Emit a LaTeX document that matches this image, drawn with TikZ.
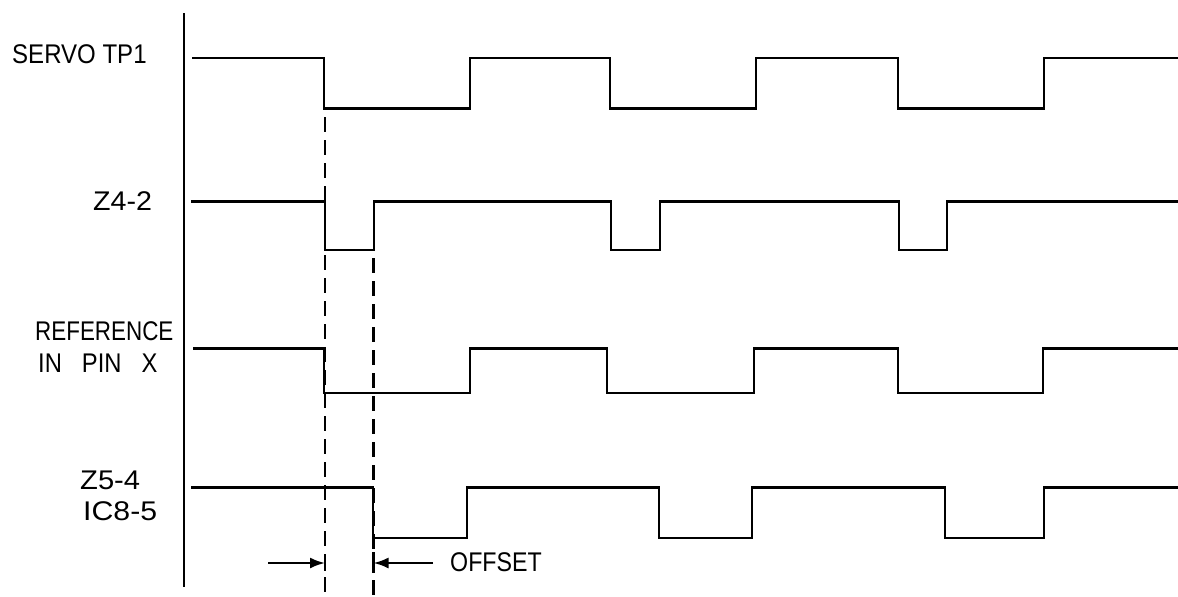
\documentclass[tikz,border=0pt]{standalone}
\usepackage{fontspec}
\setmainfont{Liberation Sans}
\usetikzlibrary{arrows.meta}
\begin{document}
\begin{tikzpicture}[x=1pt,y=-1pt,
  wave/.style={line width=2.4pt, line join=miter},
  guide/.style={line width=2.2pt, dash pattern=on 15pt off 8pt},
  lbl/.style={font=\fontsize{27}{31}\selectfont, inner sep=0pt, anchor=base west},
  dimarrow/.style={line width=2.2pt, -{Latex[length=15pt,width=11pt]}},
  bar/.style={line width=2.2pt}]
\useasboundingbox (0,0) rectangle (1178,597);
% axis
\draw[line width=2.6pt] (184,13) -- (184,587);
% labels
\node[lbl] (l1) at (12,63.5) {\scalebox{0.89}[1]{SERVO TP1}};
\node[lbl] (l2) at (93,210) {\scalebox{1.06}[1]{Z4-2}};
\node[lbl] (l3a) at (35,340) {\scalebox{0.83}[1]{REFERENCE}};
\node[lbl] (l3b) at (38,372.7) {\scalebox{0.88}[1]{IN\hspace{22.7pt}PIN\hspace{22.7pt}X}};
\node[lbl] (l4a) at (80,489) {\scalebox{1.08}[1]{Z5-4}};
\node[lbl] (l4b) at (83,520.7) {\scalebox{1.12}[1]{IC8-5}};
\node[lbl] (off) at (450,571.7) {\scalebox{0.86}[1]{OFFSET}};
% waveforms
\draw[wave] (192,58) -| (324,108.5) -| (470,58) -| (610,108.5) -| (756,58) -| (898,108.5) -| (1044,58) -- (1178,58);
\draw[wave] (191,201.5) -| (325,250) -| (374,201.5) -| (611,250) -| (660,201.5) -| (899,250) -| (947,201.5) -- (1178,201.5);
\draw[wave] (193,348.5) -| (324,393) -| (470,348.5) -| (607,393) -| (754,348.5) -| (898,393) -| (1043,348.5) -- (1178,348.5);
\draw[wave] (191,487.5) -| (373,538) -| (467,487.5) -| (659,538) -| (752,487.5) -| (945,538) -| (1044,487.5) -- (1178,487.5);
% dashed guides
\coordinate (g1t) at (325,117);
\coordinate (g1b) at (325,597);
\coordinate (g2t) at (373.5,258);
\coordinate (g2b) at (373.5,597);
\draw[guide] (g1t) -- (g1b);
\draw[guide] (g2t) -- (g2b);
% offset dimension
\coordinate (a1) at (268,563);
\coordinate (t1) at (325,563);
\coordinate (a2) at (433,563);
\coordinate (t2) at (373.5,563);
\draw[dimarrow] (a1) -- (t1);
\draw[dimarrow] (a2) -- (t2);
\draw[bar] (325,555) -- (325,571);
\draw[bar] (373.5,552) -- (373.5,573);
\end{tikzpicture}
\end{document}
